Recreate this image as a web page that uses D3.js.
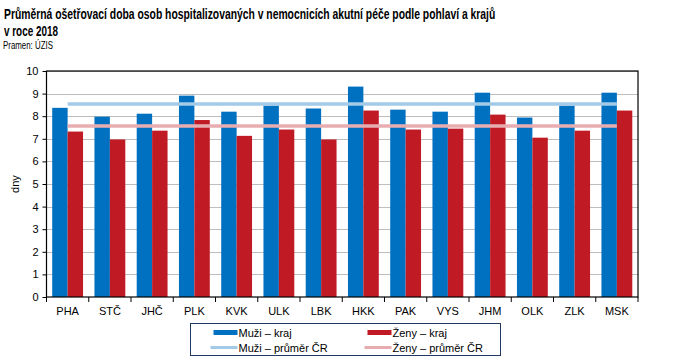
<!DOCTYPE html>
<html>
<head>
<meta charset="utf-8">
<script src="https://cdn.jsdelivr.net/npm/d3@7"></script>
<style>
  body { margin: 0; background: #fff; }
  svg { display: block; font-family: "Liberation Sans", Arial, sans-serif; }
  .title { font-family: "Liberation Sans Narrow", "Arial Narrow", "Liberation Sans", sans-serif; font-weight: bold; font-size: 15px; }
  .source { font-family: "Liberation Sans Narrow", "Arial Narrow", "Liberation Sans", sans-serif; font-size: 10px; }
</style>
</head>
<body>
<svg id="chart"></svg>
<script>
const regions = ["PHA", "STČ", "JHČ", "PLK", "KVK", "ULK", "LBK", "HKK", "PAK", "VYS", "JHM", "OLK", "ZLK", "MSK"];
const menValues = [8.37, 7.98, 8.11, 8.91, 8.20, 8.47, 8.34, 9.31, 8.29, 8.20, 9.04, 7.94, 8.47, 9.04];
const womenValues = [7.32, 6.97, 7.36, 7.83, 7.13, 7.41, 6.97, 8.25, 7.41, 7.45, 8.07, 7.05, 7.36, 8.25];
const menAverage = 8.54;
const womenAverage = 7.57;
const yTicks = [0, 1, 2, 3, 4, 5, 6, 7, 8, 9, 10];

const WIDTH = 673;
const HEIGHT = 362;
const MARGINS = { left: 46.5, top: 71, right: 35, bottom: 65 };

const COLORS = {
  men: "#0070c0",
  women: "#c01a24",
  menAvg: "#a3cbe7",
  womenAvg: "#e8adb1",
  grid: "#bdbdbd",
  legendBorder: "#1f3864",
};

const svg = d3.select("#chart").attr("width", WIDTH).attr("height", HEIGHT);

// titles: the original uses a narrow face, so squeeze each line to its width
function squeezedText(cls, x, y, width, text) {
  const t = svg.append("text").attr("class", cls).text(text);
  const natural = t.node().getComputedTextLength();
  t.attr("transform", `translate(${x},${y}) scale(${width / natural},1)`);
  return t;
}
squeezedText("title", 4, 19, 492, "Průměrná ošetřovací doba osob hospitalizovaných v nemocnicích akutní péče podle pohlaví a krajů");
squeezedText("title", 4, 35.5, 54, "v roce 2018");
squeezedText("source", 3, 48.5, 50, "Pramen: ÚZIS");

const x = d3.scaleBand()
  .domain(regions)
  .range([MARGINS.left, WIDTH - MARGINS.right]);

const y = d3.scaleLinear()
  .domain([0, 10])
  .range([HEIGHT - MARGINS.bottom, MARGINS.top]);

const sub = d3.scaleBand()
  .domain(["men", "women"])
  .range([0, x.bandwidth()])
  .paddingInner(0)
  .paddingOuter(0.37);

// grid
svg.append("g")
  .selectAll("line")
  .data(yTicks.slice(1))
  .join("line")
  .attr("x1", MARGINS.left)
  .attr("x2", WIDTH - MARGINS.right)
  .attr("y1", (d) => Math.round(y(d)) + 0.5)
  .attr("y2", (d) => Math.round(y(d)) + 0.5)
  .attr("stroke", COLORS.grid)
  .attr("stroke-width", 1);

// bars
const groups = svg.append("g")
  .selectAll("g")
  .data(regions.map((r, i) => ({ region: r, men: menValues[i], women: womenValues[i] })))
  .join("g")
  .attr("transform", (d) => `translate(${x(d.region)},0)`);

groups.selectAll("rect")
  .data((d) => [{ key: "men", value: d.men }, { key: "women", value: d.women }])
  .join("rect")
  .attr("x", (d) => sub(d.key))
  .attr("width", sub.bandwidth())
  .attr("y", (d) => y(d.value))
  .attr("height", (d) => y(0) - y(d.value))
  .attr("fill", (d) => COLORS[d.key]);

// average lines
const xFirst = x(regions[0]) + x.bandwidth() / 2;
const xLast = x(regions[regions.length - 1]) + x.bandwidth() / 2;

svg.append("line")
  .attr("x1", xFirst).attr("x2", xLast)
  .attr("y1", y(menAverage)).attr("y2", y(menAverage))
  .attr("stroke", COLORS.menAvg).attr("stroke-width", 3.5);

svg.append("line")
  .attr("x1", xFirst).attr("x2", xLast)
  .attr("y1", y(womenAverage)).attr("y2", y(womenAverage))
  .attr("stroke", COLORS.womenAvg).attr("stroke-width", 3.5);

// frame
svg.append("rect")
  .attr("x", MARGINS.left)
  .attr("y", MARGINS.top)
  .attr("width", WIDTH - MARGINS.right - MARGINS.left)
  .attr("height", y(0) - MARGINS.top)
  .attr("fill", "none")
  .attr("stroke", "#000")
  .attr("stroke-width", 1.2);

// y axis
const yAxis = d3.axisLeft(y).tickValues(yTicks).tickSize(4).tickPadding(4);
const yAxisG = svg.append("g")
  .attr("transform", `translate(${MARGINS.left},0)`)
  .call(yAxis);
yAxisG.select(".domain").remove();
yAxisG.selectAll("text").attr("font-size", 11).attr("fill", "#000").attr("font-family", "Liberation Sans, Arial, sans-serif");
yAxisG.selectAll("line").attr("stroke", "#000");

// x axis: ticks at the category boundaries
const xAxisG = svg.append("g").attr("transform", `translate(0,${y(0)})`);
xAxisG.selectAll("line")
  .data(regions.concat([null]))
  .join("line")
  .attr("x1", (d, i) => MARGINS.left + i * x.step())
  .attr("x2", (d, i) => MARGINS.left + i * x.step())
  .attr("y1", 0)
  .attr("y2", 5)
  .attr("stroke", "#000");
xAxisG.selectAll("text")
  .data(regions)
  .join("text")
  .attr("x", (d) => x(d) + x.bandwidth() / 2)
  .attr("y", 18)
  .attr("text-anchor", "middle")
  .attr("font-size", 11)
  .text((d) => d);

// y label
svg.append("text")
  .attr("transform", `translate(19,${(y(0) + y(10)) / 2}) rotate(-90)`)
  .attr("text-anchor", "middle")
  .attr("font-size", 11)
  .text("dny");

// legend
const legend = svg.append("g").attr("transform", "translate(190.5,323.5)");
legend.append("rect")
  .attr("width", 310)
  .attr("height", 32)
  .attr("fill", "#fff")
  .attr("stroke", COLORS.legendBorder);

const legendItems = [
  { label: "Muži – kraj", color: COLORS.men, width: 5, col: 0, row: 0 },
  { label: "Ženy – kraj", color: COLORS.women, width: 5, col: 1, row: 0 },
  { label: "Muži – průměr ČR", color: COLORS.menAvg, width: 3, col: 0, row: 1 },
  { label: "Ženy – průměr ČR", color: COLORS.womenAvg, width: 3, col: 1, row: 1 },
];

const item = legend.selectAll(".item")
  .data(legendItems)
  .join("g")
  .attr("class", "item")
  .attr("transform", (d) => `translate(${d.col === 0 ? 0 : 154},${d.row === 0 ? 9 : 24})`);

item.append("line")
  .attr("x1", (d) => (d.row === 0 ? 23 : 20))
  .attr("x2", 47)
  .attr("stroke", (d) => d.color)
  .attr("stroke-width", (d) => d.width);

item.append("text")
  .attr("x", 48)
  .attr("y", 4)
  .attr("font-size", 11)
  .text((d) => d.label);
</script>
</body>
</html>
